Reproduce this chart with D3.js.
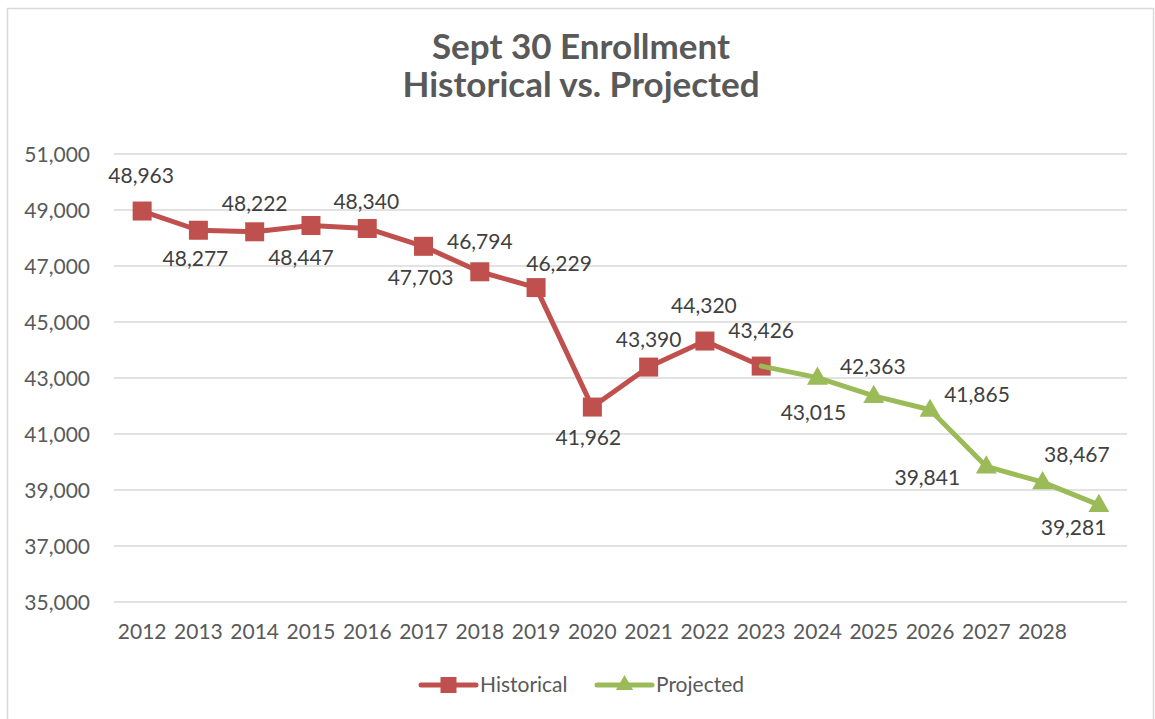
<!DOCTYPE html>
<html>
<head>
<meta charset="utf-8">
<script src="https://cdn.jsdelivr.net/npm/d3@7"></script>
<style>
  html, body { margin: 0; padding: 0; background: #fff; }
  svg { display: block; font-family: Lato, "Open Sans", sans-serif; }
</style>
</head>
<body>
<svg id="chart" width="1155" height="719"></svg>
<script>
// ---- data ----
const categories = ["2012","2013","2014","2015","2016","2017","2018","2019","2020","2021","2022","2023","2024","2025","2026","2027","2028","2029"];
const tickLabels = ["2012","2013","2014","2015","2016","2017","2018","2019","2020","2021","2022","2023","2024","2025","2026","2027","2028",""];
const historicalYears = ["2012","2013","2014","2015","2016","2017","2018","2019","2020","2021","2022","2023"];
const historicalValues = [48963, 48277, 48222, 48447, 48340, 47703, 46794, 46229, 41962, 43390, 44320, 43426];
const projectedYears = ["2023","2024","2025","2026","2027","2028","2029"];
const projectedValues = [43426, 43015, 42363, 41865, 39841, 39281, 38467];
const yTicks = [35000, 37000, 39000, 41000, 43000, 45000, 47000, 49000, 51000];
const seriesNames = ["Historical", "Projected"];

// ---- label placement (style) : [dx, dy] of label centre/baseline from point ----
const histLabelOffsets = [[-1,-28],[-3,36],[0,-21],[-10,40],[-1,-19],[-3,39],[0,-23],[23,-17],[-4,38],[0,-20],[-1,-28],[0,-28]];
const projLabelOffsets = [null,[-4,42],[-1,-22],[47,-8],[-59,19],[31,53],[-22,-43]];

const svg = d3.select("#chart");
const RED = "#C0504D", GREEN = "#9BBB59";

// frame
svg.append("rect").attr("x", 7.5).attr("y", 8.5).attr("width", 1146).attr("height", 730)
  .attr("fill", "#fff").attr("stroke", "#D9D9D9").attr("stroke-width", 1.5);

const pLeft = 114, pRight = 1127, pTop = 154, pBottom = 602;
const x = d3.scaleBand().domain(categories).range([pLeft, pRight]).paddingInner(0).paddingOuter(0);
const y = d3.scaleLinear().domain([35000, 51000]).range([pBottom, pTop]);
const cx = d => x(d) + x.bandwidth() / 2;
const fmt = d3.format(",");

// gridlines
svg.append("g").selectAll("line").data(yTicks).join("line")
  .attr("x1", pLeft).attr("x2", pRight)
  .attr("y1", d => y(d)).attr("y2", d => y(d))
  .attr("stroke", "#D9D9D9").attr("stroke-width", 1.5);

// y axis labels
const yAxis = d3.axisLeft(y).tickValues(yTicks).tickFormat(fmt).tickSize(0).tickPadding(0);
const yg = svg.append("g").attr("transform", `translate(${pLeft - 24},0)`).call(yAxis);
yg.select(".domain").remove();
yg.selectAll("text").attr("font-size", 21).attr("fill", "#595959").attr("font-family", "Lato, sans-serif").attr("dy", "0.36em");

// x axis labels
const xAxis = d3.axisBottom(x).tickFormat((d, i) => tickLabels[i]).tickSize(0).tickPadding(0);
const xg = svg.append("g").attr("transform", `translate(0,${pBottom})`).call(xAxis);
xg.select(".domain").remove();
xg.selectAll("text").attr("font-size", 21).attr("fill", "#595959").attr("font-family", "Lato, sans-serif").attr("dy", null).attr("y", 37);

// title
const title = svg.append("text").attr("text-anchor", "middle").attr("fill", "#595959")
  .attr("font-weight", "bold").attr("font-size", 35).attr("font-family", "Lato, sans-serif");
title.append("tspan").attr("x", 581).attr("y", 59).text("Sept 30 Enrollment");
title.append("tspan").attr("x", 581).attr("y", 97).text("Historical vs. Projected");

const hist = historicalYears.map((yr, i) => ({yr, v: historicalValues[i], off: histLabelOffsets[i]}));
const proj = projectedYears.map((yr, i) => ({yr, v: projectedValues[i], off: projLabelOffsets[i]}));

const line = d3.line().x(d => cx(d.yr)).y(d => y(d.v));

svg.append("path").datum(hist).attr("d", line).attr("fill", "none").attr("stroke", RED)
  .attr("stroke-width", 5).attr("stroke-linejoin", "round").attr("stroke-linecap", "round");
svg.append("g").selectAll("rect").data(hist).join("rect")
  .attr("x", d => cx(d.yr) - 9.5).attr("y", d => y(d.v) - 9.5)
  .attr("width", 19).attr("height", 19).attr("fill", RED);

svg.append("path").datum(proj).attr("d", line).attr("fill", "none").attr("stroke", GREEN)
  .attr("stroke-width", 5).attr("stroke-linejoin", "round").attr("stroke-linecap", "round");
const tri = d3.symbol().type(d3.symbolTriangle).size(190);
svg.append("g").selectAll("path").data(proj.slice(1)).join("path")
  .attr("d", tri).attr("transform", d => `translate(${cx(d.yr)},${y(d.v) + 1})`).attr("fill", GREEN);

// data labels
const labels = hist.concat(proj.filter(d => d.off));
svg.append("g").selectAll("text").data(labels).join("text")
  .attr("x", d => cx(d.yr) + d.off[0]).attr("y", d => y(d.v) + d.off[1])
  .attr("text-anchor", "middle").attr("font-size", 21).attr("fill", "#404040")
  .attr("font-family", "Lato, sans-serif")
  .text(d => fmt(d.v));

// legend
const lg = svg.append("g");
const legendItems = [
  {name: seriesNames[0], color: RED, x1: 421, x2: 476, tx: 480, marker: "square"},
  {name: seriesNames[1], color: GREEN, x1: 597, x2: 652, tx: 656, marker: "triangle"}
];
const ly = 685;
legendItems.forEach(it => {
  lg.append("line").attr("x1", it.x1).attr("x2", it.x2).attr("y1", ly).attr("y2", ly)
    .attr("stroke", it.color).attr("stroke-width", 5).attr("stroke-linecap", "round");
  const mx = (it.x1 + it.x2) / 2;
  if (it.marker === "square") {
    lg.append("rect").attr("x", mx - 8).attr("y", ly - 8).attr("width", 16).attr("height", 16).attr("fill", it.color);
  } else {
    lg.append("path").attr("d", d3.symbol().type(d3.symbolTriangle).size(130)).attr("transform", `translate(${mx},${ly})`).attr("fill", it.color);
  }
  lg.append("text").attr("x", it.tx).attr("y", ly + 7).attr("font-size", 21).attr("fill", "#595959")
    .attr("font-family", "Lato, sans-serif").text(it.name);
});
</script>
</body>
</html>
